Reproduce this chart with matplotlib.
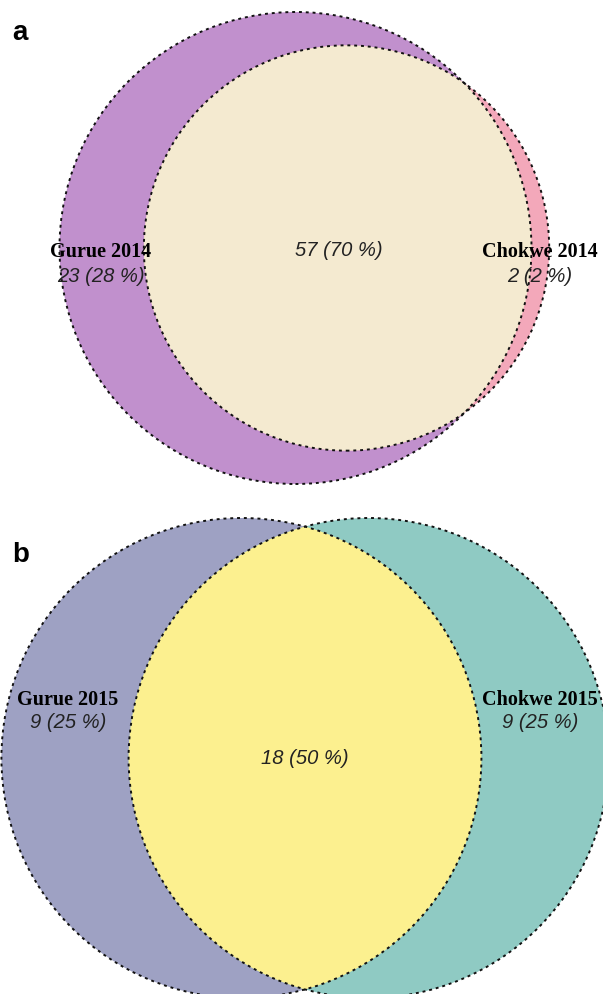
import numpy as np
import matplotlib.pyplot as plt
from matplotlib.patches import Circle

# counts per set: (only A, both, only B)
labels_a = ["Gurue 2014", "Chokwe 2014"]
counts_a = [23, 57, 2]
labels_b = ["Gurue 2015", "Chokwe 2015"]
counts_b = [9, 18, 9]

colors_a = ["#c190cd", "#f4ead0", "#f3a8ba"]   # A only, overlap, B only
colors_b = ["#9ea1c3", "#fcf08f", "#8fcac3"]

W, H = 603, 994
fig = plt.figure(figsize=(W / 100, H / 100), dpi=100)


def lens_area(r1, r2, d):
    if d >= r1 + r2:
        return 0.0
    if d <= abs(r1 - r2):
        return np.pi * min(r1, r2) ** 2
    a1 = r1 ** 2 * np.arccos((d ** 2 + r1 ** 2 - r2 ** 2) / (2 * d * r1))
    a2 = r2 ** 2 * np.arccos((d ** 2 + r2 ** 2 - r1 ** 2) / (2 * d * r2))
    k = 0.5 * np.sqrt((-d + r1 + r2) * (d + r1 - r2) * (d - r1 + r2) * (d + r1 + r2))
    return a1 + a2 - k


def solve_dist(r1, r2, target):
    lo, hi = abs(r1 - r2), r1 + r2
    for _ in range(100):
        mid = 0.5 * (lo + hi)
        if lens_area(r1, r2, mid) > target:
            lo = mid
        else:
            hi = mid
    return 0.5 * (lo + hi)


def venn2(counts, colors, top, bottom, mid_x, mid_y, r1_px):
    only1, both, only2 = counts
    r1 = np.sqrt((only1 + both) / np.pi)
    r2 = np.sqrt((only2 + both) / np.pi)
    d = solve_dist(r1, r2, both)
    scale = r1_px / r1   # pixels per data unit

    ax = fig.add_axes([0, 1 - bottom / H, 1, (bottom - top) / H])
    ax.set_xlim(-mid_x / scale, (W - mid_x) / scale)
    ax.set_ylim(-(bottom - mid_y) / scale, (mid_y - top) / scale)
    ax.axis("off")

    c1 = (-d / 2, 0)
    c2 = (d / 2, 0)
    left = Circle(c1, r1, facecolor=colors[0], edgecolor="none", zorder=1)
    right = Circle(c2, r2, facecolor=colors[2], edgecolor="none", zorder=1)
    ax.add_patch(left)
    ax.add_patch(right)
    inter = Circle(c2, r2, facecolor=colors[1], edgecolor="none", zorder=2)
    ax.add_patch(inter)
    inter.set_clip_path(left)
    for c, r in [(c1, r1), (c2, r2)]:
        ax.add_patch(Circle(c, r, fill=False, edgecolor="#111111", lw=1.4,
                            linestyle=(0, (1.5, 2.0)), zorder=3))
    return ax


def ftext(x, y, s, **kw):
    fig.text(x / W, 1 - y / H, s, ha="center", va="center", **kw)


name_kw = dict(family="Liberation Serif", weight="bold", fontsize=14.5)
num_kw = dict(family="Liberation Sans", style="italic", fontsize=14.5, color="#222222")
tot = lambda c: sum(c)

# panel a
venn2(counts_a, colors_a, top=0, bottom=500, mid_x=321, mid_y=248, r1_px=236)
ftext(101, 252, labels_a[0], **name_kw)
ftext(101, 276, f"{counts_a[0]} ({round(100 * counts_a[0] / tot(counts_a))} %)", **num_kw)
ftext(339, 250, f"{counts_a[1]} ({round(100 * counts_a[1] / tot(counts_a))} %)", **num_kw)
ftext(540, 252, labels_a[1], **name_kw)
ftext(540, 276, f"{counts_a[2]} ({round(100 * counts_a[2] / tot(counts_a))} %)", **num_kw)
fig.text(12 / W, 1 - 40 / H, "a", family="Liberation Sans", weight="bold", fontsize=20)

# panel b
venn2(counts_b, colors_b, top=505, bottom=994, mid_x=305, mid_y=758, r1_px=240)
ftext(68, 700, labels_b[0], **name_kw)
ftext(68, 723, f"{counts_b[0]} ({round(100 * counts_b[0] / tot(counts_b))} %)", **num_kw)
ftext(305, 758, f"{counts_b[1]} ({round(100 * counts_b[1] / tot(counts_b))} %)", **num_kw)
ftext(540, 700, labels_b[1], **name_kw)
ftext(540, 723, f"{counts_b[2]} ({round(100 * counts_b[2] / tot(counts_b))} %)", **num_kw)
fig.text(12 / W, 1 - 562 / H, "b", family="Liberation Sans", weight="bold", fontsize=20)

fig.savefig("out.png", dpi=100)
